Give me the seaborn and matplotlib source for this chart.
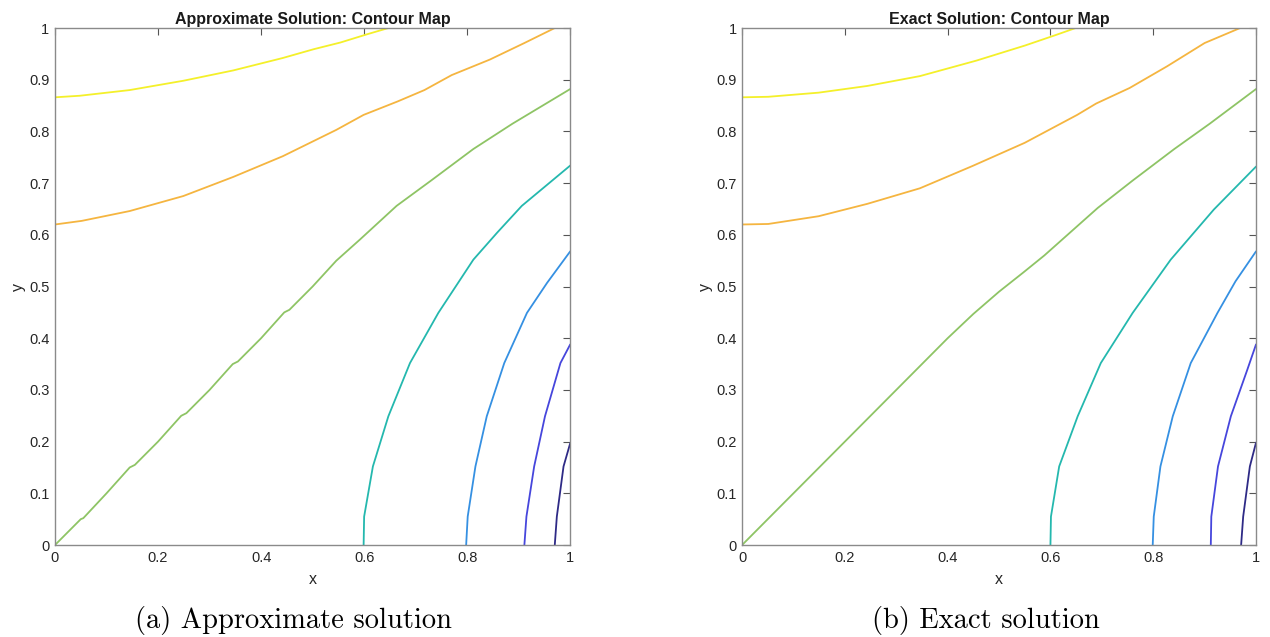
import numpy as np
import pandas as pd
import matplotlib
matplotlib.use('Agg')
import matplotlib.pyplot as plt
import seaborn as sns

# contour lines, (x, y) per level
# (a) approximate solution
apx_yellow_x = [0, 0.048, 0.145, 0.249, 0.346, 0.442, 0.502, 0.554, 0.606, 0.647]
apx_yellow_y = [0.866, 0.869, 0.880, 0.898, 0.918, 0.942, 0.959, 0.972, 0.988, 1.0]
apx_orange_x = [0, 0.052, 0.145, 0.249, 0.346, 0.442, 0.546, 0.599, 0.665, 0.717, 0.770, 0.844, 0.911, 0.970]
apx_orange_y = [0.620, 0.627, 0.646, 0.675, 0.712, 0.752, 0.803, 0.832, 0.858, 0.880, 0.909, 0.939, 0.971, 1.0]
apx_green_x = [0, 0.05, 0.055, 0.10, 0.145, 0.155, 0.20, 0.245, 0.255, 0.30, 0.345, 0.355, 0.40, 0.445,
               0.455, 0.50, 0.546, 0.592, 0.663, 0.73, 0.812, 0.888, 1.0]
apx_green_y = [0, 0.05, 0.052, 0.10, 0.15, 0.155, 0.20, 0.25, 0.255, 0.30, 0.35, 0.355, 0.40, 0.45,
               0.455, 0.50, 0.550, 0.591, 0.656, 0.705, 0.766, 0.815, 0.882]
apx_cyan_x = [0.599, 0.600, 0.617, 0.647, 0.689, 0.744, 0.812, 0.858, 0.906, 1.0]
apx_cyan_y = [0, 0.055, 0.152, 0.249, 0.352, 0.449, 0.552, 0.604, 0.656, 0.734]
apx_blue_x = [0.798, 0.801, 0.816, 0.838, 0.872, 0.916, 0.955, 1.0]
apx_blue_y = [0, 0.055, 0.152, 0.249, 0.352, 0.449, 0.507, 0.568]
apx_violet_x = [0.911, 0.915, 0.930, 0.951, 0.981, 1.0]
apx_violet_y = [0, 0.055, 0.152, 0.249, 0.352, 0.388]
apx_navy_x = [0.970, 0.974, 0.987, 1.0]
apx_navy_y = [0, 0.055, 0.152, 0.197]

# (b) exact solution
ex_yellow_x = [0, 0.051, 0.149, 0.244, 0.346, 0.456, 0.550, 0.609, 0.649]
ex_yellow_y = [0.866, 0.867, 0.875, 0.888, 0.907, 0.937, 0.966, 0.986, 1.0]
ex_orange_x = [0, 0.051, 0.149, 0.244, 0.346, 0.448, 0.550, 0.652, 0.689, 0.754, 0.827, 0.900, 0.969]
ex_orange_y = [0.620, 0.621, 0.636, 0.660, 0.690, 0.733, 0.778, 0.832, 0.854, 0.884, 0.926, 0.971, 1.0]
ex_green_x = [0, 0.1, 0.2, 0.3, 0.4, 0.45, 0.50, 0.547, 0.588, 0.692, 0.760, 0.841, 0.910, 1.0]
ex_green_y = [0, 0.1, 0.2, 0.3, 0.4, 0.447, 0.490, 0.527, 0.560, 0.652, 0.705, 0.766, 0.815, 0.882]
ex_cyan_x = [0.600, 0.601, 0.617, 0.653, 0.698, 0.760, 0.834, 0.918, 1.0]
ex_cyan_y = [0, 0.055, 0.152, 0.249, 0.352, 0.449, 0.552, 0.649, 0.732]
ex_blue_x = [0.799, 0.801, 0.814, 0.838, 0.873, 0.925, 0.960, 1.0]
ex_blue_y = [0, 0.055, 0.152, 0.249, 0.352, 0.449, 0.510, 0.568]
ex_violet_x = [0.912, 0.913, 0.926, 0.951, 0.983, 1.0]
ex_violet_y = [0, 0.055, 0.152, 0.249, 0.339, 0.388]
ex_navy_x = [0.971, 0.975, 0.988, 1.0]
ex_navy_y = [0, 0.055, 0.152, 0.198]

levels = ['navy', 'violet', 'blue', 'cyan', 'green', 'orange', 'yellow']
level_colors = {'navy': '#2e2a86', 'violet': '#4646dc', 'blue': '#3590e2', 'cyan': '#24b8ae',
                'green': '#8ec465', 'orange': '#f5b540', 'yellow': '#f4f02a'}

titles = ['Approximate Solution: Contour Map', 'Exact Solution: Contour Map']
captions = ['(a) Approximate solution', '(b) Exact solution']
caption_x = [0.2307, 0.7764]


def to_frame(lines):
    rows = []
    for name, (xs, ys) in lines.items():
        for i, (a, b) in enumerate(zip(xs, ys)):
            rows.append({'level': name, 'order': i, 'x': a, 'y': b})
    return pd.DataFrame(rows)


apx_df = to_frame({'yellow': (apx_yellow_x, apx_yellow_y), 'orange': (apx_orange_x, apx_orange_y),
                   'green': (apx_green_x, apx_green_y), 'cyan': (apx_cyan_x, apx_cyan_y),
                   'blue': (apx_blue_x, apx_blue_y), 'violet': (apx_violet_x, apx_violet_y),
                   'navy': (apx_navy_x, apx_navy_y)})
ex_df = to_frame({'yellow': (ex_yellow_x, ex_yellow_y), 'orange': (ex_orange_x, ex_orange_y),
                  'green': (ex_green_x, ex_green_y), 'cyan': (ex_cyan_x, ex_cyan_y),
                  'blue': (ex_blue_x, ex_blue_y), 'violet': (ex_violet_x, ex_violet_y),
                  'navy': (ex_navy_x, ex_navy_y)})

sns.set_style('white')
plt.rcParams['font.family'] = ['Liberation Sans', 'DejaVu Sans']

fig = plt.figure(figsize=(12.7, 6.37), dpi=100)
ax1 = fig.add_axes([0.0433, 0.1444, 0.4057, 0.8116])
ax2 = fig.add_axes([0.5843, 0.1444, 0.4047, 0.8116])

for ax, df, title, cap, cx in zip([ax1, ax2], [apx_df, ex_df], titles, captions, caption_x):
    sns.lineplot(data=df, x='x', y='y', hue='level', hue_order=levels, palette=level_colors,
                 units='level', estimator=None, sort=False, linewidth=1.3, legend=False, ax=ax)
    ax.set_xlim(0, 1)
    ax.set_ylim(0, 1)
    ax.set_xticks(np.arange(0, 1.01, 0.2))
    ax.set_xticklabels(['0', '0.2', '0.4', '0.6', '0.8', '1'])
    ax.set_yticks(np.arange(0, 1.01, 0.1))
    ax.set_yticklabels(['0', '0.1', '0.2', '0.3', '0.4', '0.5', '0.6', '0.7', '0.8', '0.9', '1'])
    ax.tick_params(direction='in', length=5, width=0.8, color='#555555', labelsize=10.5,
                   labelcolor='#262626', top=True, right=True, pad=4)
    for s in ax.spines.values():
        s.set_color('#8a8a8a')
        s.set_linewidth(1.0)
    ax.set_xlabel('x', fontsize=11.5, color='#262626', labelpad=5)
    ax.set_ylabel('y', fontsize=11.5, color='#262626', labelpad=2)
    ax.set_title(title, fontsize=11.5, fontweight='bold', color='#1a1a1a', pad=3)
    fig.text(cx, 0.026, cap, ha='center', va='center',
             fontsize=20.5, family=['cmr10', 'DejaVu Serif'], color='black')

fig.savefig('out.png', dpi=100, facecolor='white')
